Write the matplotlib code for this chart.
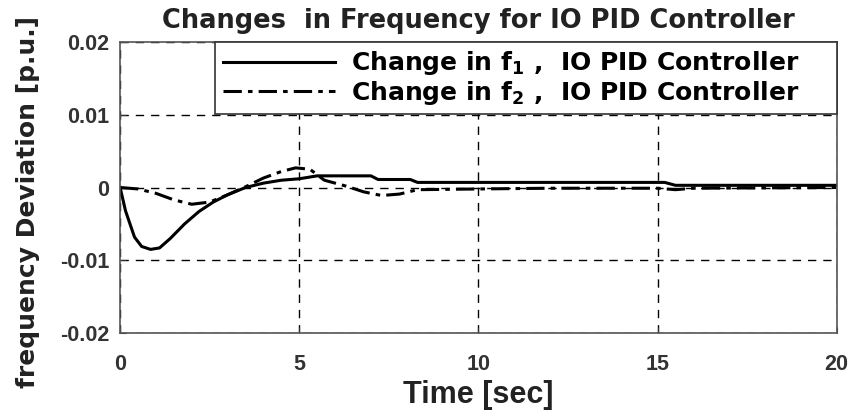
import matplotlib.pyplot as plt

plt.rcParams['font.family'] = ['Liberation Sans', 'DejaVu Sans']
plt.rcParams['mathtext.fontset'] = 'custom'
plt.rcParams['mathtext.rm'] = 'DejaVu Sans:bold'
plt.rcParams['mathtext.it'] = 'DejaVu Sans:bold'
plt.rcParams['mathtext.bf'] = 'DejaVu Sans:bold'

# frequency deviation of area 1 (solid)
t1 = [0, 0.15, 0.4, 0.6, 0.85, 1.1, 1.4, 1.8, 2.2, 2.6, 3.0, 3.5, 4.0, 4.5,
      5.0, 5.5, 7.0, 7.2, 8.1, 8.3, 15.2, 15.5, 20]
df1 = [0, -0.0032, -0.0068, -0.0081, -0.0085, -0.0083, -0.007, -0.005, -0.0033,
       -0.002, -0.001, 0, 0.0006, 0.001, 0.0012, 0.0016, 0.0016, 0.0011,
       0.0011, 0.0007, 0.0007, 0.0003, 0.0003]

# frequency deviation of area 2 (dash-dot)
t2 = [0, 0.5, 1.0, 1.5, 2.0, 2.5, 3.0, 3.5, 4.0, 4.5, 4.9, 5.3, 5.7, 6.3,
      6.8, 7.3, 7.8, 8.3, 10, 12, 15, 15.5, 16, 20]
df2 = [0, -0.0002, -0.0008, -0.0017, -0.0023, -0.002, -0.001, 0.0001, 0.0013,
       0.0022, 0.0027, 0.0025, 0.001, 0.0002, -0.0006, -0.0011, -0.0009,
       -0.0003, -0.0002, -0.0001, -0.0001, -0.0003, -0.0001, 0]

xticks = [0, 5, 10, 15, 20]
yticks = [-0.02, -0.01, 0, 0.01, 0.02]
ytick_labels = ['-0.02', '-0.01', '0', '0.01', '0.02']

fig = plt.figure(figsize=(8.52, 4.19), dpi=100)
ax = fig.add_axes([0.141, 0.205, 0.841, 0.695])

ax.plot(t1, df1, color='black', lw=2.2, label=r'Change in f$_{1}$ ,  IO PID Controller')
ax.plot(t2, df2, color='black', lw=2.2, linestyle=(0, (6, 2, 1.5, 2)),
        label=r'Change in f$_{2}$ ,  IO PID Controller')

ax.set_xlim(0, 20)
ax.set_ylim(-0.02, 0.02)
ax.set_xticks(xticks)
ax.set_yticks(yticks)
ax.set_yticklabels(ytick_labels)
ax.tick_params(labelsize=15.5, length=4, direction='in', colors='#333333')
ax.tick_params(axis='x', pad=15)
ax.tick_params(axis='y', pad=8)
for lab in ax.get_xticklabels() + ax.get_yticklabels():
    lab.set_fontweight('bold')
ax.grid(True, color='black', linestyle=(0, (6, 5)), lw=1)
for s in ax.spines.values():
    s.set_color('#555555')
    s.set_linewidth(1.2)

ax.set_title('Changes  in Frequency for IO PID Controller', fontsize=18.5,
             fontweight='bold', pad=10, color='#222222', family='DejaVu Sans')
ax.set_xlabel('Time [sec]', fontsize=22, fontweight='bold', labelpad=4,
              color='#222222')
ax.set_ylabel('frequency Deviation [p.u.]', fontsize=18, fontweight='bold',
              color='#222222', family='DejaVu Sans')
ax.yaxis.set_label_coords(-0.112, 0.45)

# legend box spans from x ~ 1.3 s to the right edge
leg = ax.legend(loc='upper right', bbox_to_anchor=(0.1325, 0, 0.8675, 1),
                mode='expand', borderaxespad=0, fancybox=False,
                edgecolor='#333333', framealpha=1, handlelength=4.5,
                handletextpad=0.65,
                prop={'size': 18, 'weight': 'bold', 'family': 'DejaVu Sans'},
                labelspacing=0.05, borderpad=0.3)
leg.get_frame().set_linewidth(1.2)

fig.savefig('out.png', dpi=100)
